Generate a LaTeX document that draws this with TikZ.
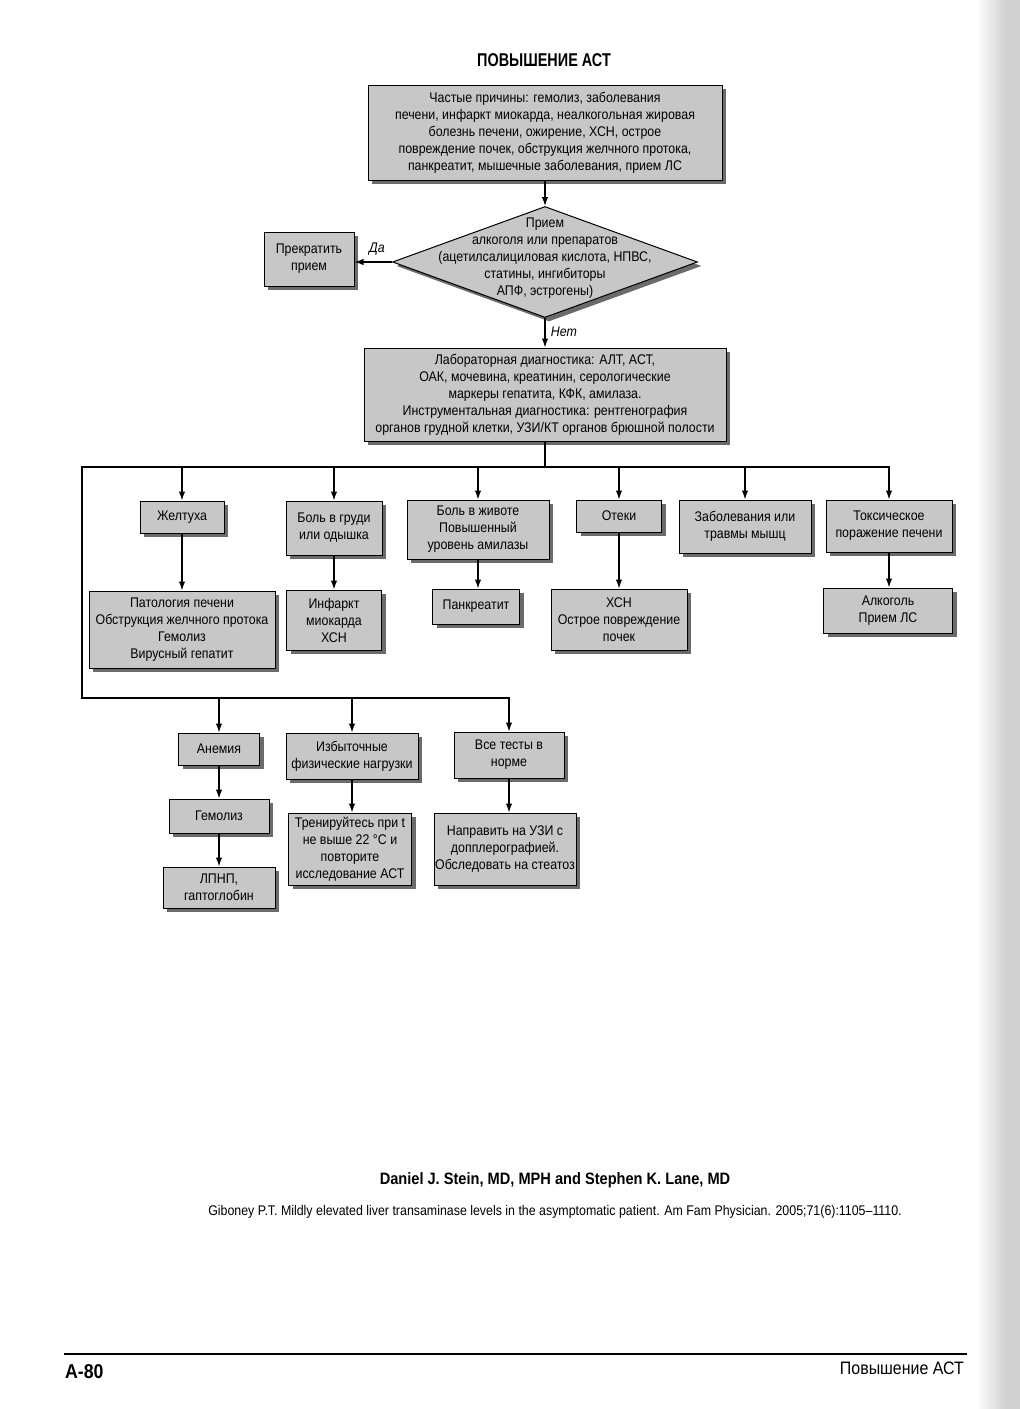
\documentclass[tikz,border=0pt]{standalone}
\usepackage{fontspec}
\setmainfont[FakeStretch=0.885]{Liberation Sans}
\newfontfamily\titlefont[FakeStretch=0.78]{Liberation Sans}
\usetikzlibrary{arrows.meta,shapes.geometric}
\definecolor{boxgray}{gray}{0.78}
\definecolor{shgray}{gray}{0.42}
\newcommand{\boxfont}{\fontsize{14}{17}\selectfont}
\tikzset{
  shad/.style={preaction={fill=shgray, transform canvas={shift={(4pt,-4pt)}}}},
  box/.style={draw, line width=1pt, fill=boxgray, align=center, inner sep=1pt,
    font=\boxfont, shad},
  sz/.style 2 args={minimum width=#1pt, minimum height=#2pt},
  arr/.style={line width=1.3pt, -{Latex[length=9pt,width=6.5pt]}},
  ln/.style={line width=1.3pt},
}
\begin{document}
\begin{tikzpicture}[x=1pt,y=-1pt]
\useasboundingbox (0,0) rectangle (1020,1409);
\fill[white] (0,0) rectangle (1020,1409);
\shade[left color=white, right color=black!18] (976,0) rectangle (1006,1409);
\fill[black!18] (1006,0) rectangle (1020,1409);

\node[font=\fontsize{18.5}{22}\selectfont\titlefont\bfseries] (title) at (544,60) {ПОВЫШЕНИЕ АСТ};

\node[box, sz={354}{95}] (top) at (545,132.5) {Частые причины: гемолиз, заболевания\\печени, инфаркт миокарда, неалкогольная жировая\\болезнь печени, ожирение, ХСН, острое\\повреждение почек, обструкция желчного протока,\\панкреатит, мышечные заболевания, прием ЛС};

\node[diamond, draw, line width=1pt, fill=boxgray, minimum width=305pt, minimum height=111pt, inner sep=0pt, shad] (dia) at (545,262) {};
\node[font=\boxfont, align=center] (diatext) at (545,258) {Прием\\алкоголя или препаратов\\(ацетилсалициловая кислота, НПВС,\\статины, ингибиторы\\АПФ, эстрогены)};

\node[box, sz={90}{54}] (stop) at (309,259) {Прекратить\\прием};

\node[box, sz={362}{93}] (lab) at (545,394.5) {Лабораторная диагностика: АЛТ, АСТ,\\ОАК, мочевина, креатинин, серологические\\маркеры гепатита, КФК, амилаза.\\Инструментальная диагностика: рентгенография\\органов грудной клетки, УЗИ/КТ органов брюшной полости};

\draw[arr] (top.south) -- (dia.north);
\draw[arr] (dia.west) -- (stop.east |- dia.west) node[pos=0.4, above=3pt, font=\boxfont\itshape] (da) {Да};
\draw[arr] (dia.south) -- (lab.north) node[pos=0.45, right=2pt, font=\boxfont\itshape] (net) {Нет};

% row 1
\node[box, sz={84}{32}] (zhel) at (182,517) {Желтуха};
\node[box, sz={96}{54}] (grud) at (334,528) {Боль в груди\\или одышка};
\node[box, sz={142}{59}] (zhiv) at (478,529.5) {Боль в животе\\Повышенный\\уровень амилазы};
\node[box, sz={85}{32}] (otek) at (619,516) {Отеки};
\node[box, sz={132}{53}] (mysh) at (745,526.5) {Заболевания или\\травмы мышц};
\node[box, sz={126}{52}] (tox) at (889,526) {Токсическое\\поражение печени};
% row 2
\node[box, sz={186}{77}] (pat) at (182,629.5) {Патология печени\\Обструкция желчного протока\\Гемолиз\\Вирусный гепатит};
\node[box, sz={95}{60}] (inf) at (334,620) {Инфаркт\\миокарда\\ХСН};
\node[box, sz={87}{35}] (pank) at (476,606.5) {Панкреатит};
\node[box, sz={136}{61}] (xsn) at (619,619.5) {ХСН\\Острое повреждение\\почек};
\node[box, sz={129}{45}] (alk) at (888,610.5) {Алкоголь\\Прием ЛС};
% row 3
\node[box, sz={81}{32}] (anem) at (219,749) {Анемия};
\node[box, sz={132}{46}] (izb) at (352,756) {Избыточные\\физические нагрузки};
\node[box, sz={110}{46}] (vse) at (509,755) {Все тесты в\\норме};
% row 4
\node[box, sz={100}{34}] (gem) at (219,816) {Гемолиз};
\node[box, sz={123}{72}] (tren) at (350,849) {Тренируйтесь при t\\не выше 22 °С и\\повторите\\исследование АСТ};
\node[box, sz={142}{72}] (napr) at (505,849) {Направить на УЗИ с\\допплерографией.\\Обследовать на стеатоз};
% row 5
\node[box, sz={112}{41}] (lpnp) at (219,887.5) {ЛПНП,\\гаптоглобин};

% bus
\coordinate (b0) at (82,467);
\coordinate (b1) at (889,467);
\coordinate (c0) at (82,698);
\coordinate (c1) at (509,698);
\draw[ln] (lab.south) -- (lab.south |- b0);
\draw[ln, line cap=rect] (b1) -- (b0) -- (c0) -- (c1);
\foreach \nd in {zhel,grud,zhiv,otek,mysh,tox}{
  \draw[arr] (\nd.north |- b0) -- (\nd.north);
}
\foreach \nd in {anem,izb,vse}{
  \draw[arr] (\nd.north |- c0) -- (\nd.north);
}
\draw[arr] (zhel.south) -- (zhel.south |- pat.north);
\draw[arr] (grud.south) -- (grud.south |- inf.north);
\draw[arr] (zhiv.south) -- (zhiv.south |- pank.north);
\draw[arr] (otek.south) -- (otek.south |- xsn.north);
\draw[arr] (tox.south) -- (tox.south |- alk.north);
\draw[arr] (anem.south) -- (anem.south |- gem.north);
\draw[arr] (gem.south) -- (gem.south |- lpnp.north);
\draw[arr] (izb.south) -- (izb.south |- tren.north);
\draw[arr] (vse.south) -- (vse.south |- napr.north);

% footer
\node[font=\fontsize{16.5}{19}\selectfont\bfseries] (auth) at (555,1180) {Daniel J. Stein, MD, MPH and Stephen K. Lane, MD};
\node[font=\fontsize{14}{16}\selectfont] (cite) at (555,1212) {Giboney P.T. Mildly elevated liver transaminase levels in the asymptomatic patient. Am Fam Physician. 2005;71(6):1105–1110.};
\coordinate (r0) at (64,1354);
\coordinate (r1) at (967,1354);
\draw[line width=1.5pt] (r0) -- (r1);
\node[anchor=base west, font=\fontsize{20}{24}\selectfont\bfseries, inner sep=0pt] (pg) at (65,1378) {А-80};
\node[anchor=base east, font=\fontsize{18}{22}\selectfont, inner sep=0pt] (run) at (964,1374) {Повышение АСТ};
\end{tikzpicture}
\end{document}
